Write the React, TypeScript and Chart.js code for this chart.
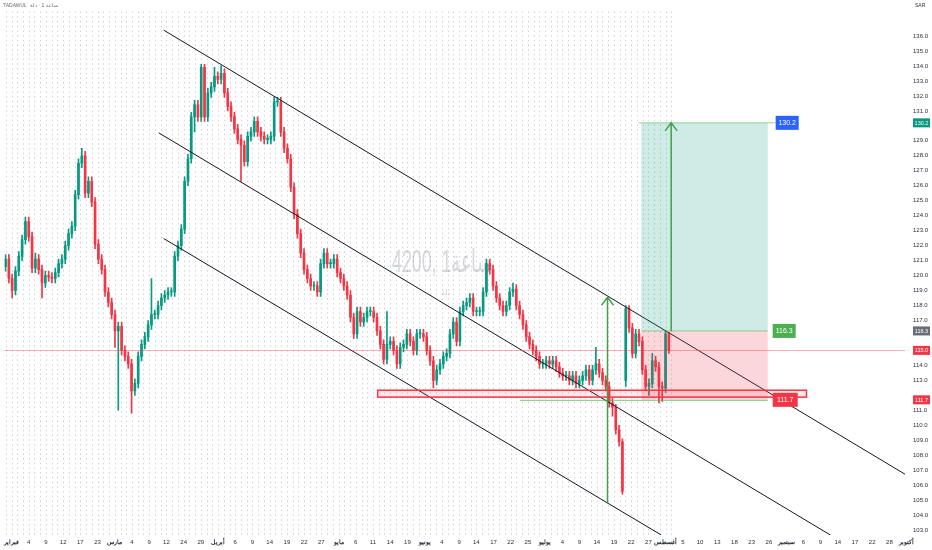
import React, { useEffect, useRef } from "react";
import { Chart, registerables } from "chart.js";
Chart.register(...registerables);

// ---- hourly candles (one entry per bar) ----
const opens = [
  120.6,121.1,119.8,119.0,120.3,121.3,122.4,123.6,122.6,120.5,
  121.1,120.4,119.5,120.0,119.9,119.8,120.2,120.8,121.1,122.0,
  122.8,123.3,125.4,127.5,128.0,125.5,126.3,124.9,122.1,121.1,
  120.4,118.9,118.2,117.4,116.3,116.6,115.0,114.6,114.1,112.3,
  112.8,114.6,115.4,115.9,116.7,117.4,117.4,118.0,118.5,118.7,
  118.9,118.9,121.3,122.0,123.1,126.3,127.8,130.6,131.4,130.6,
  133.9,130.6,132.2,132.6,133.3,133.1,133.5,132.2,131.3,130.6,
  129.8,129.1,128.7,127.6,129.3,129.6,130.3,129.6,129.3,129.1,
  129.1,129.3,131.6,131.6,129.6,128.5,127.8,125.9,124.1,122.8,
  121.5,120.4,119.8,119.3,119.3,118.9,120.8,121.5,120.8,120.8,
  121.1,120.2,119.8,119.3,118.7,117.2,116.1,117.6,116.9,117.2,
  117.6,117.6,117.2,116.3,115.4,114.4,115.4,115.6,115.0,114.1,
  115.2,115.4,116.1,115.6,115.0,116.1,116.1,115.9,115.0,114.3,
  113.0,113.7,114.1,114.6,114.8,116.1,116.9,115.6,117.6,118.0,
  118.2,118.5,117.6,117.6,117.6,118.9,120.8,120.4,119.3,118.5,
  118.0,117.6,118.0,118.9,119.1,118.0,117.4,116.7,115.9,115.4,
  115.0,114.6,114.1,114.1,114.3,114.1,114.3,113.9,113.5,113.3,
  113.3,113.0,113.3,112.8,113.0,113.3,113.7,113.0,113.7,114.1,
  113.5,113.0,112.6,111.5,111.2,109.7,108.9,113.0,117.8,116.5,
  114.8,116.1,115.6,113.7,112.6,112.8,114.3,113.9,112.6,112.5,116.1,
];
const highs = [
  121.4,121.4,120.1,120.6,121.6,122.7,123.9,123.9,122.9,121.5,
  121.4,120.7,120.3,120.3,120.2,120.5,121.1,121.4,122.3,123.1,
  123.6,125.7,127.8,128.5,128.3,126.6,126.6,125.2,122.4,121.4,
  120.7,119.2,118.5,117.7,116.9,116.9,115.3,114.9,114.4,113.1,
  114.9,115.7,116.2,117.0,119.8,117.7,118.3,118.8,119.0,119.2,
  119.2,121.6,122.3,123.4,126.6,128.1,130.9,131.7,131.7,134.1,
  134.1,132.5,132.9,133.9,133.6,134.0,133.8,132.5,131.6,130.9,
  130.1,129.4,129.0,129.6,129.9,130.6,130.6,129.9,129.6,129.4,
  129.6,131.9,131.9,131.9,129.9,128.8,128.1,126.2,124.4,123.1,
  121.8,120.7,120.1,119.6,119.6,121.1,121.8,121.8,121.1,121.4,
  121.4,120.5,120.1,119.6,119.0,117.5,117.9,117.9,117.5,117.9,
  117.9,117.9,117.5,116.6,115.7,117.6,115.9,115.9,115.3,115.5,
  115.7,116.4,116.4,115.9,116.4,116.4,116.4,116.2,115.3,114.6,
  114.0,114.4,114.9,115.1,116.4,117.2,117.2,117.9,118.3,118.5,
  118.8,118.8,117.9,117.9,119.2,121.1,121.1,120.7,119.6,118.8,
  118.3,118.3,119.2,119.5,119.4,118.3,117.7,117.0,116.2,115.7,
  115.3,114.9,114.4,114.6,114.6,114.6,114.6,114.2,113.8,113.6,
  113.6,113.6,113.6,113.3,113.6,114.0,114.0,114.0,115.2,114.4,
  113.8,113.3,112.9,111.8,111.4,110.0,109.1,118.0,118.0,116.8,
  116.4,116.4,115.9,114.0,113.1,114.8,114.6,114.2,112.9,116.3,116.2,
];
const lows = [
  120.3,119.5,118.5,118.7,120.0,121.0,122.1,122.3,120.2,120.2,
  120.1,118.5,119.2,119.6,119.5,119.5,119.9,120.5,120.8,121.7,
  122.5,123.0,125.1,127.2,125.2,125.2,124.6,121.8,120.8,120.1,
  118.6,117.9,117.1,115.2,111.0,114.7,114.3,113.8,110.8,112.0,
  112.5,114.3,115.1,115.6,116.4,117.1,117.1,117.7,118.2,118.4,
  118.6,118.6,121.0,121.7,122.8,126.0,127.5,129.6,130.3,130.3,
  130.3,130.3,131.9,132.3,132.8,132.8,131.9,131.0,130.3,129.5,
  128.8,126.3,127.3,127.3,129.0,129.3,129.3,129.0,128.8,128.8,
  128.8,129.0,131.3,129.3,128.2,127.5,125.6,123.8,122.5,121.2,
  120.1,119.5,119.0,119.0,118.6,118.6,120.5,120.5,120.5,120.5,
  119.9,119.5,119.0,118.4,116.9,115.8,115.8,116.6,116.6,116.9,
  117.3,116.9,116.0,115.1,114.1,114.1,115.1,114.7,113.8,113.8,
  114.9,115.1,115.3,114.7,114.7,115.8,115.6,114.7,114.0,112.5,
  112.7,113.4,113.8,114.3,114.5,115.8,115.3,115.3,117.3,117.7,
  117.9,117.3,117.3,117.3,117.3,118.6,120.1,119.0,118.2,117.7,
  117.3,117.3,117.7,118.6,117.7,117.1,116.4,115.6,115.1,114.7,
  114.3,113.8,113.8,113.8,113.8,113.8,113.6,113.2,113.0,113.0,
  112.7,112.7,112.5,112.5,112.7,113.0,112.7,112.7,113.4,113.2,
  112.7,112.3,111.2,110.6,109.4,108.6,105.4,112.6,116.2,114.5,
  114.5,115.3,113.4,112.3,112.0,112.5,113.6,111.5,111.6,112.2,114.8,
];
const closes = [
  121.1,119.8,119.0,120.3,121.3,122.4,123.6,122.6,120.5,121.1,
  120.4,119.5,120.0,119.9,119.8,120.2,120.8,121.1,122.0,122.8,
  123.3,125.4,127.5,128.0,125.5,126.3,124.9,122.1,121.1,120.4,
  118.9,118.2,117.4,116.3,116.6,115.0,114.6,114.1,112.3,112.8,
  114.6,115.4,115.9,116.7,117.4,117.4,118.0,118.5,118.7,118.9,
  118.9,121.3,122.0,123.1,126.3,127.8,130.6,131.4,130.6,133.9,
  130.6,132.2,132.6,133.3,133.1,133.5,132.2,131.3,130.6,129.8,
  129.1,128.7,127.6,129.3,129.6,130.3,129.6,129.3,129.1,129.1,
  129.3,131.6,131.6,129.6,128.5,127.8,125.9,124.1,122.8,121.5,
  120.4,119.8,119.3,119.3,118.9,120.8,121.5,120.8,120.8,121.1,
  120.2,119.8,119.3,118.7,117.2,116.1,117.6,116.9,117.2,117.6,
  117.6,117.2,116.3,115.4,114.4,115.4,115.6,115.0,114.1,115.2,
  115.4,116.1,115.6,115.0,116.1,116.1,115.9,115.0,114.3,113.0,
  113.7,114.1,114.6,114.8,116.1,116.9,115.6,117.6,118.0,118.2,
  118.5,117.6,117.6,117.6,118.9,120.8,120.4,119.3,118.5,118.0,
  117.6,118.0,118.9,119.1,118.0,117.4,116.7,115.9,115.4,115.0,
  114.6,114.1,114.1,114.3,114.1,114.3,113.9,113.5,113.3,113.3,
  113.0,113.3,112.8,113.0,113.3,113.7,113.0,113.7,114.1,113.5,
  113.0,112.6,111.5,111.2,109.7,108.9,105.6,117.8,116.5,114.8,
  116.1,115.6,113.7,112.6,112.8,114.3,113.9,112.6,112.5,116.1,115.0,
];

// ---- axis labels ----
const xTickLabels = [
  "فبراير","4","9","12","17","23","مارس","4","9","12","24","29",
  "أبريل","6","9","14","19","22","27","مايو","6","11","14","19",
  "يونيو","4","9","14","17","22","25","يوليو","4","9","14","19","22","27",
  "أغسطس","5","10","13","18","23","26","سبتمبر","6","9","14","17","22","28","أكتوبر",
];
const yTickValues = [103,104,105,106,107,108,109,110,111,112,113,114,115,116,117,118,119,120,121,122,123,124,125,126,127,128,129,130,131,132,133,134,135,136];
const yTicksHidden = [112,115,116,130];

// ---- drawings (in bar index / price units) ----
const channelUpper = [{ x: 47.7, y: 136.39 }, { x: 271.2, y: 106.73 }];
const channelMiddle = [{ x: 46.2, y: 129.53 }, { x: 248.7, y: 102.67 }];
const channelLower = [{ x: 47.7, y: 122.47 }, { x: 197.7, y: 102.67 }];
const entryPrice = 116.3;
const targetPrice = 130.2;
const stopPrice = 111.7;
const lastPrice = 115.0;
const positionStart = 191.7;
const positionEnd = 229.8;
const zoneStart = 112.2;
const zoneEnd = 241.5;
const zoneLow = 111.88;
const zoneHigh = 112.34;
const supportStart = 155.1;
const arrowXs = [181.5, 200.7];
const arrowFrom = [104.76, 116.3];
const arrowTo = [118.55, 130.2];

const UP = "#089981";
const DOWN = "#f23645";
const FONT = '"Liberation Sans", Arial, sans-serif';

function tag(ctx: CanvasRenderingContext2D, left: number, cy: number, w: number, h: number, bg: string, text: string, fg: string, size: number) {
  ctx.fillStyle = bg;
  ctx.fillRect(left, cy - h / 2, w, h);
  ctx.fillStyle = fg;
  ctx.font = `${size}px ${FONT}`;
  ctx.textAlign = "center";
  ctx.textBaseline = "middle";
  ctx.fillText(text, left + w / 2, cy + 0.5);
}

const overlay = {
  id: "overlay",
  beforeDatasetsDraw(chart: any) {
    const { ctx, chartArea: a, scales } = chart;
    const x = scales.x;
    ctx.save();
    // dotted grid over the data region
    const gridEnd = x.getPixelForValue(closes.length - 0.2);
    ctx.strokeStyle = "rgba(150,158,176,0.45)";
    ctx.lineWidth = 1;
    ctx.setLineDash([1.5, 3.2]);
    const step = 5.19 / 3;
    for (let v = 1.8 - step; ; v += step) {
      const px = Math.round(x.getPixelForValue(v)) + 0.5;
      if (px > gridEnd) break;
      if (px < a.left) continue;
      ctx.beginPath();
      ctx.moveTo(px, a.top);
      ctx.lineTo(px, a.bottom);
      ctx.stroke();
    }
    ctx.setLineDash([]);
    // watermark
    ctx.fillStyle = "rgba(120,123,134,0.3)";
    ctx.font = `32px ${FONT}`;
    ctx.textAlign = "left";
    ctx.textBaseline = "middle";
    const wm = "4200, 1ساعة";
    const w = ctx.measureText(wm).width;
    ctx.save();
    ctx.translate(392, 263);
    ctx.scale(100 / w, 1);
    ctx.fillText(wm, 0, 0);
    ctx.restore();
    ctx.font = `8px ${FONT}`;
    ctx.textAlign = "center";
    ctx.fillText("دلة", 446, 293);
    ctx.restore();
  },
  afterDatasetsDraw(chart: any) {
    const { ctx, chartArea: a, scales } = chart;
    const x = scales.x, y = scales.y;
    ctx.save();
    const xs = x.getPixelForValue(positionStart);
    const xe = x.getPixelForValue(positionEnd);
    const yT = y.getPixelForValue(targetPrice);
    const yE = y.getPixelForValue(entryPrice);
    const yS = y.getPixelForValue(stopPrice);
    // last price line
    ctx.strokeStyle = "rgba(242,54,69,0.4)";
    ctx.lineWidth = 1;
    const yL = Math.round(y.getPixelForValue(lastPrice)) + 0.5;
    ctx.beginPath();
    ctx.moveTo(a.left, yL);
    ctx.lineTo(a.right, yL);
    ctx.stroke();
    // position boxes
    ctx.fillStyle = "rgba(8,153,129,0.2)";
    ctx.fillRect(xs, yT, xe - xs, yE - yT);
    ctx.fillStyle = "rgba(242,54,69,0.2)";
    ctx.fillRect(xs, yE, xe - xs, yS - yE);
    ctx.strokeStyle = "rgba(76,175,80,0.55)";
    ctx.beginPath();
    ctx.moveTo(xs - 3, yT); ctx.lineTo(xe + 8, yT);
    ctx.moveTo(xs, yE); ctx.lineTo(xe, yE);
    ctx.stroke();
    // support line
    ctx.strokeStyle = "rgba(76,175,80,0.75)";
    ctx.beginPath();
    ctx.moveTo(x.getPixelForValue(supportStart), yS + 0.5);
    ctx.lineTo(xe, yS + 0.5);
    ctx.stroke();
    // red zone
    const zx1 = x.getPixelForValue(zoneStart), zx2 = x.getPixelForValue(zoneEnd);
    const zy1 = y.getPixelForValue(zoneHigh), zy2 = y.getPixelForValue(zoneLow);
    ctx.fillStyle = "rgba(242,54,69,0.12)";
    ctx.fillRect(zx1, zy1, zx2 - zx1, zy2 - zy1);
    ctx.strokeStyle = "#f23645";
    ctx.lineWidth = 1.5;
    ctx.strokeRect(zx1, zy1, zx2 - zx1, zy2 - zy1);
    // arrows
    ctx.strokeStyle = "#43a047";
    ctx.lineWidth = 1.5;
    arrowXs.forEach((xv, i) => {
      const px = x.getPixelForValue(xv);
      const y1 = y.getPixelForValue(arrowFrom[i]);
      const y2 = y.getPixelForValue(arrowTo[i]);
      ctx.beginPath();
      ctx.moveTo(px, y1);
      ctx.lineTo(px, y2);
      ctx.moveTo(px - 6, y2 + 8);
      ctx.lineTo(px, y2);
      ctx.lineTo(px + 6, y2 + 8);
      ctx.stroke();
    });
    // price tags next to the position tool
    tag(ctx, xe + 8, yT, 23, 14, "#2962ff", targetPrice.toFixed(1), "#ffffff", 7);
    tag(ctx, xe + 5, yE, 23, 14, "#4caf50", entryPrice.toFixed(1), "#ffffff", 7);
    tag(ctx, xe + 5, yS, 25, 14, "#f23645", stopPrice.toFixed(1), "#ffffff", 7);
    ctx.restore();
  },
  afterDraw(chart: any) {
    const { ctx, chartArea: a, scales } = chart;
    const y = scales.y;
    ctx.save();
    const ax = a.right + 8;
    tag(ctx, ax, y.getPixelForValue(targetPrice), 17, 9, "#089981", targetPrice.toFixed(1), "#ffffff", 5.5);
    tag(ctx, ax, y.getPixelForValue(entryPrice), 17, 9, "#6a6d78", entryPrice.toFixed(1), "#ffffff", 5.5);
    tag(ctx, ax, y.getPixelForValue(lastPrice), 17, 9, "#f23645", lastPrice.toFixed(1), "#ffffff", 5.5);
    tag(ctx, ax, y.getPixelForValue(stopPrice), 17, 9, "#f23645", stopPrice.toFixed(1), "#ffffff", 5.5);
    ctx.fillStyle = "#2a2e39";
    ctx.font = `5px ${FONT}`;
    ctx.textAlign = "left";
    ctx.textBaseline = "middle";
    ctx.fillText("SAR", ax + 2, 6);
    ctx.fillStyle = "#6a6d78";
    ctx.fillText("TADAWUL", 3, 6);
    ctx.fillText("ساعة 1 · دلة", 30, 6);
    ctx.restore();
  },
};

export default function App() {
  const ref = useRef<HTMLCanvasElement>(null);
  useEffect(() => {
    document.body.style.margin = "0";
    const bodies = opens.map((o, i) => ({ x: i, y: [o, closes[i]] }));
    const wicks = lows.map((l, i) => ({ x: i, y: [l, highs[i]] }));
    const candleColor = (c: any) => (closes[c.dataIndex] >= opens[c.dataIndex] ? UP : DOWN);
    const lineDs = (data: any[]) => ({
      type: "line" as const,
      data,
      borderColor: "#131722",
      borderWidth: 1,
      pointRadius: 0,
      fill: false,
      order: 0,
    });
    const chart = new Chart(ref.current as HTMLCanvasElement, {
      type: "bar",
      data: {
        datasets: [
          { data: bodies as any, backgroundColor: candleColor, barThickness: 2, minBarLength: 1, grouped: false, order: 1 } as any,
          { data: wicks as any, backgroundColor: candleColor, barThickness: 1, grouped: false, order: 2 } as any,
          lineDs(channelUpper),
          lineDs(channelMiddle),
          lineDs(channelLower),
        ],
      },
      options: {
        animation: false,
        responsive: false,
        layout: { padding: 0 },
        plugins: { legend: { display: false }, tooltip: { enabled: false } },
        scales: {
          x: {
            type: "linear",
            min: -0.3,
            max: 271.2,
            offset: false,
            afterFit: (s: any) => { s.height = 15; },
            afterBuildTicks: (s: any) => { s.ticks = xTickLabels.map((_, k) => ({ value: 1.8 + 5.19 * k })); },
            ticks: {
              autoSkip: false,
              maxRotation: 0,
              padding: 4,
              color: "#2a2e39",
              font: (c: any) => ({ size: 6, family: FONT, weight: isNaN(Number(xTickLabels[c.index])) ? "bold" : "normal" }),
              callback: (_v: any, i: number) => xTickLabels[i],
            },
            grid: { display: false, drawTicks: false },
            border: { display: false },
          },
          y: {
            type: "linear",
            position: "right",
            min: 102.67,
            max: 137.63,
            afterFit: (s: any) => { s.width = 27; },
            afterBuildTicks: (s: any) => { s.ticks = yTickValues.filter((v) => !yTicksHidden.includes(v)).map((v) => ({ value: v })); },
            ticks: {
              padding: 8,
              color: "#2a2e39",
              font: { size: 6, family: FONT },
              callback: (v: any) => Number(v).toFixed(1),
            },
            grid: { display: false, drawTicks: false },
            border: { display: false },
          },
        },
      } as any,
      plugins: [overlay],
    });
    return () => chart.destroy();
  }, []);
  return (
    <div style={{ width: 932, height: 550 }}>
      <canvas ref={ref} width={932} height={550} style={{ display: "block" }} />
    </div>
  );
}
